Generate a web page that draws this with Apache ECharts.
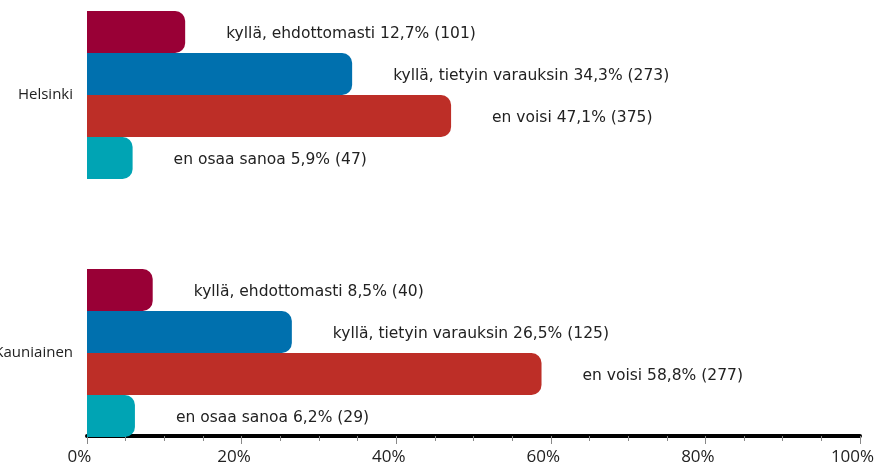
<!DOCTYPE html>
<html>
<head>
<meta charset="utf-8">
<script src="https://cdn.jsdelivr.net/npm/echarts@6/dist/echarts.min.js"></script>
<style>
  html, body { margin: 0; padding: 0; background: #fff; }
  #chart { width: 876px; height: 468px; }
</style>
</head>
<body>
<div id="chart"></div>
<script>
// Areas shown on the category axis (top to bottom)
const areas = ['Helsinki', 'Kauniainen'];

// Answer options
const answers = ['kyllä, ehdottomasti', 'kyllä, tietyin varauksin', 'en voisi', 'en osaa sanoa'];

// Share of respondents (%) per answer, one array per answer: [Helsinki, Kauniainen]
const shareEhdottomasti = [12.7, 8.5];
const shareVarauksin = [34.3, 26.5];
const shareEnVoisi = [47.1, 58.8];
const shareEnOsaa = [5.9, 6.2];

// Number of respondents per answer: [Helsinki, Kauniainen]
const countEhdottomasti = [101, 40];
const countVarauksin = [273, 125];
const countEnVoisi = [375, 277];
const countEnOsaa = [47, 29];

// Value axis ticks
const axisMin = 0;
const axisMax = 100;
const axisStep = 20;

const shares = [shareEhdottomasti, shareVarauksin, shareEnVoisi, shareEnOsaa];
const counts = [countEhdottomasti, countVarauksin, countEnVoisi, countEnOsaa];
const colors = ['#990036', '#0070ae', '#bd2e27', '#00a4b4'];

const axisFont = '"Open Sans", "Liberation Sans", sans-serif';
const labelFont = '"DejaVu Sans", "Open Sans", sans-serif';

const series = answers.map((name, i) => ({
  name: name,
  type: 'bar',
  clip: false,
  barWidth: 42,
  barGap: '0%',
  data: shares[i],
  itemStyle: { color: colors[i], borderRadius: [0, 10, 10, 0] },
  label: {
    show: true,
    position: 'right',
    distance: 41,
    color: '#222',
    fontFamily: labelFont,
    fontSize: 15.5,
    offset: [0, 2],
    formatter: p => name + ' ' + String(p.value).replace('.', ',') + '% (' + counts[i][p.dataIndex] + ')'
  }
}));

const chart = echarts.init(document.getElementById('chart'), null, { renderer: 'canvas' });
chart.setOption({
  animation: false,
  backgroundColor: '#fff',
  grid: { left: 87, right: 16, top: 95, bottom: 115, containLabel: false, outerBoundsMode: 'none' },
  xAxis: {
    type: 'value',
    min: axisMin,
    max: axisMax,
    interval: axisStep,
    offset: 83,
    splitLine: { show: false },
    axisLine: { show: true, lineStyle: { color: '#000', width: 4 } },
    axisTick: { show: true, length: 8, lineStyle: { color: '#888', width: 1 } },
    minorTick: { show: true, splitNumber: 4, length: 5, lineStyle: { color: '#888', width: 1 } },
    axisLabel: {
      formatter: '{value}%',
      color: '#222',
      fontFamily: axisFont,
      fontSize: 17,
      margin: 13,
      padding: [0, 15, 0, 0]
    }
  },
  yAxis: {
    type: 'category',
    data: areas,
    inverse: true,
    boundaryGap: false,
    axisLine: { show: false },
    axisTick: { show: false },
    splitLine: { show: false },
    axisLabel: {
      color: '#222',
      fontFamily: axisFont,
      fontSize: 15,
      margin: 14
    }
  },
  series: series
});
</script>
</body>
</html>
